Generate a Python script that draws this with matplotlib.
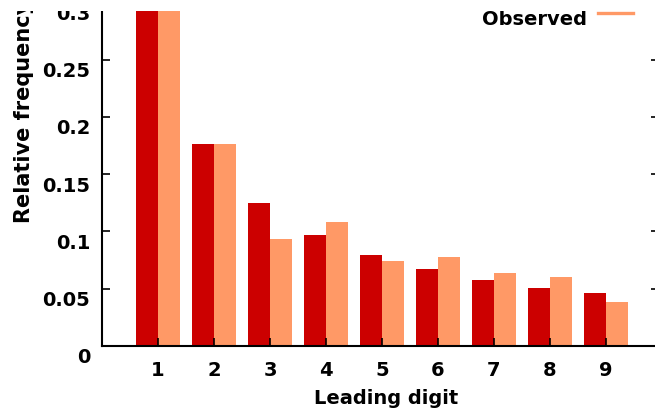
import matplotlib
matplotlib.use("Agg")
import matplotlib.pyplot as plt
import matplotlib.transforms as mtransforms
from matplotlib.patches import Rectangle
from matplotlib.lines import Line2D
import numpy as np

# donnees
digits = [1, 2, 3, 4, 5, 6, 7, 8, 9]
benford = [0.301, 0.176, 0.125, 0.097, 0.079, 0.067, 0.058, 0.051, 0.046]
observed = [0.301, 0.176, 0.093, 0.108, 0.074, 0.078, 0.064, 0.060, 0.038]
yticks = [0, 0.05, 0.1, 0.15, 0.2, 0.25, 0.3]
ytick_labels = ["0", "0.05", "0.1", "0.15", "0.2", "0.25", "0.3"]
series_names = ["Benford's law", "Observed"]

RED = "#cc0000"
ORANGE = "#ff9966"
W, H = 655, 414
DPI = 100

plt.rcParams["font.family"] = "DejaVu Sans"
plt.rcParams["font.weight"] = "bold"
plt.rcParams["font.size"] = 14

fig = plt.figure(figsize=(W / DPI, H / DPI), dpi=DPI)
# the axes spill over the top and right edges (original image is cropped)
ax = fig.add_axes([102 / W, 67 / H, 557 / W, 401 / H])

x = np.array(digits)
w = 0.39
ax.bar(x - w, benford, w, align="edge", color=RED, label=series_names[0])
ax.bar(x, observed, w, align="edge", color=ORANGE, label=series_names[1])

ax.set_xlim(0, 9.95)
ax.set_ylim(0, 0.35)
ax.set_xticks(digits)
ax.set_yticks(yticks, ytick_labels)

for s in ax.spines.values():
    s.set_linewidth(1.5)

ax.tick_params(direction="in", length=5.8, width=1.2, colors="black",
               top=True, right=True, labelsize=14)
ax.tick_params(axis="x", pad=10)
ax.tick_params(axis="y", pad=8.5)

# gnuplot draws the y labels a little under the ticks
offset = mtransforms.ScaledTranslation(0, -9 / DPI, fig.dpi_scale_trans)
for lab in ax.get_yticklabels():
    lab.set_transform(lab.get_transform() + offset)

ax.set_xlabel("Leading digit", fontsize=14, fontweight="bold")
ax.xaxis.set_label_coords(0.51, -0.105)
fig.text(24 / W, 1 - 223 / H, "Relative frequency", rotation=90,
         ha="center", va="bottom", fontsize=15, fontweight="bold")

# legend (only the bottom entry is visible)
fig.text(587 / W, 1 - 25 / H, series_names[1], ha="right", va="baseline",
         fontsize=14, fontweight="bold")
fig.add_artist(Line2D([598 / W, 633 / W], [1 - 13.7 / H, 1 - 13.7 / H],
                      transform=fig.transFigure, color=ORANGE, lw=2.4))

# blank strip on top, as in the cropped original
fig.add_artist(Rectangle((0, 1 - 12 / H), 1, 12 / H, transform=fig.transFigure,
                         facecolor="white", edgecolor="none", zorder=10))

fig.savefig("out.png", dpi=DPI)
